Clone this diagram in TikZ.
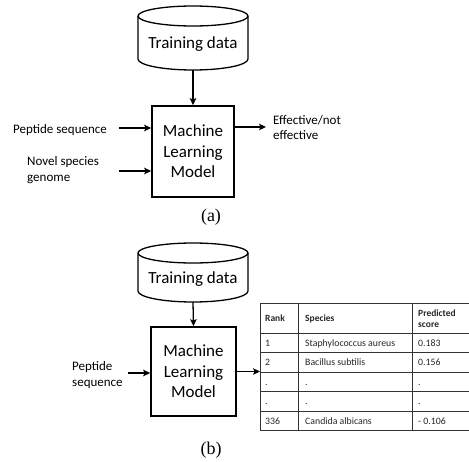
\documentclass[tikz,border=0pt]{standalone}
\usepackage{fontspec}
\newfontfamily\carl{Carlito}
\newfontfamily\capserif{Liberation Serif}
\usetikzlibrary{arrows.meta}
\begin{document}
\begin{tikzpicture}[x=1pt,y=-1pt,
  conn/.style={line width=1.3pt,-{Stealth[length=7pt,width=6.5pt,inset=1.5pt]}},
  mlbox/.style={draw,line width=1.6pt,align=center,font=\carl\fontsize{17}{20.5}\selectfont,inner sep=0pt},
  cylline/.style={line width=1.3pt},
  cyltext/.style={font=\carl\fontsize{17}{20}\selectfont,inner sep=0pt},
  lbl/.style={font=\carl\fontsize{13}{15.5}\selectfont,align=left,inner sep=0pt,anchor=west},
  cell/.style={font=\carl\fontsize{9.8}{11.5}\selectfont,anchor=base west,inner sep=0pt,text=black!85},
  hcell/.style={font=\carl\bfseries\fontsize{9.5}{11.5}\selectfont,anchor=base west,inner sep=0pt,align=left,text=black!85},
  tline/.style={line width=0.8pt,draw=black!80},
  capt/.style={font=\capserif\fontsize{18}{20}\selectfont,inner sep=0pt}]
\useasboundingbox (0,0) rectangle (469,461);

% ---------- (a) ----------
\draw[cylline] (193,16) ellipse [x radius=55pt, y radius=10pt];
\draw[cylline] (138,16) -- (138,59) arc[start angle=180, end angle=360, x radius=55pt, y radius=11pt] -- (248,16);
\node[cyltext] (tdA) at (193,44) {Training data};
\coordinate (tdAb) at (193,70);
\node[mlbox, minimum width=82pt, minimum height=91pt] (mlA) at (193,151.5) {Machine\\Learning\\Model};
\draw[conn] (tdAb) -- (mlA.north);

\node[lbl] (pepA) at (13,130) {Peptide sequence};
\coordinate (pepAs) at (119,128);
\draw[conn] (pepAs) -- (pepAs -| mlA.west);

\node[lbl] (novA) at (27,170) {Novel species\\genome};
\coordinate (novAs) at (119,171);
\draw[conn] (novAs) -- (novAs -| mlA.west);

\coordinate (outAe) at (266,127);
\draw[conn] (mlA.east |- outAe) -- (outAe);
\node[lbl] (effA) at (273,127.5) {Effective/not\\effective};

\node[capt] (capA) at (211,217) {(a)};

% ---------- (b) ----------
\draw[cylline] (193,253) ellipse [x radius=55pt, y radius=10pt];
\draw[cylline] (138,253) -- (138,291) arc[start angle=180, end angle=360, x radius=55pt, y radius=11pt] -- (248,253);
\node[cyltext] (tdB) at (193,279) {Training data};
\coordinate (tdBb) at (193,302);
\node[mlbox, minimum width=85pt, minimum height=89pt] (mlB) at (193.5,371.5) {Machine\\Learning\\Model};
\draw[conn] (tdBb) -- (mlB.north);

\node[lbl] (pepB) at (72,375) {Peptide\\sequence};
\coordinate (pepBs) at (128,373);
\draw[conn] (pepBs) -- (pepBs -| mlB.west);

% table
\node[anchor=north west, minimum width=209pt, minimum height=127.5pt, inner sep=0pt] (tbl) at (260,303) {};
\draw[conn] (mlB.east) -- (mlB.east -| tbl.west);
\draw[tline] (469,303) -- (260,303) -- (260,430.5) -- (469,430.5);
\foreach \yy in {333,352.5,372,391.5,411} \draw[tline] (260,\yy) -- (469,\yy);
\draw[tline] (298,303) -- (298,430.5);
\draw[tline] (412,303) -- (412,430.5);

\node[hcell] (h1) at (265,321.5) {Rank};
\node[hcell] (h2) at (305,321.5) {Species};
\node[hcell] (h3) at (418,327.8) {Predicted\\score};

\node[cell] (r1a) at (265,346) {1};
\node[cell] (r1b) at (305,346) {Staphylococcus aureus};
\node[cell] (r1c) at (418,346) {0.183};
\node[cell] (r2a) at (265,365.5) {2};
\node[cell] (r2b) at (305,365.5) {Bacillus subtilis};
\node[cell] (r2c) at (418,365.5) {0.156};
\node[cell] (r3a) at (265,385) {.};
\node[cell] (r3b) at (305,385) {.};
\node[cell] (r3c) at (418,385) {.};
\node[cell] (r4a) at (265,404.5) {.};
\node[cell] (r4b) at (305,404.5) {.};
\node[cell] (r4c) at (418,404.5) {.};
\node[cell] (r5a) at (265,424) {336};
\node[cell] (r5b) at (305,424) {Candida albicans};
\node[cell] (r5c) at (418,424) {- 0.106};

\node[capt] (capB) at (211,450) {(b)};
\end{tikzpicture}
\end{document}
